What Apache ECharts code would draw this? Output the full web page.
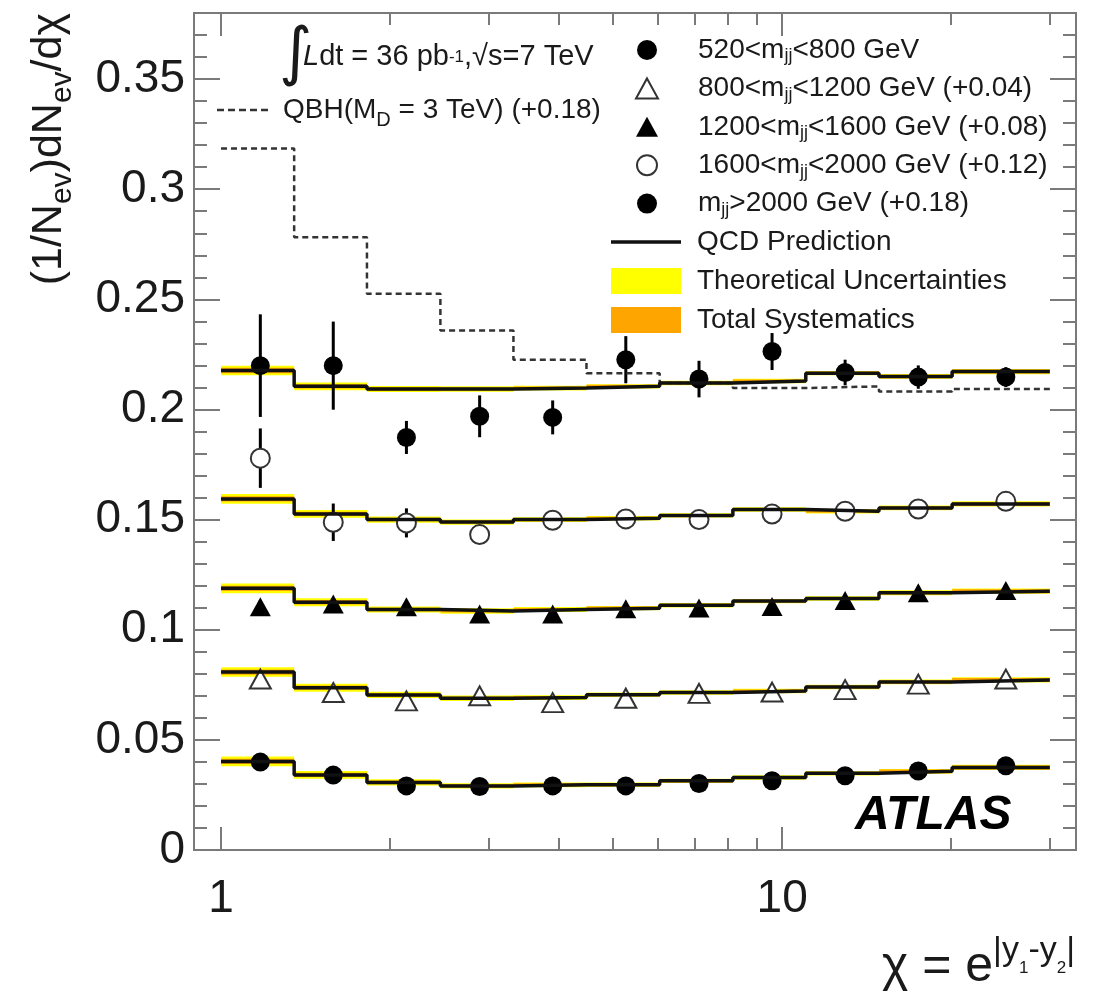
<!DOCTYPE html>
<html>
<head>
<meta charset="utf-8">
<title>ATLAS dijet angular distributions</title>
<script src="https://cdn.jsdelivr.net/npm/echarts@6.0.0/dist/echarts.min.js"></script>
<style>
html,body{margin:0;padding:0;background:#ffffff;}
#chart{width:1099px;height:996px;}
</style>
</head>
<body>
<div id="chart"></div>
<script>
// ---------------- data ----------------
const chiEdges = [1, 1.35, 1.82, 2.46, 3.32, 4.48, 6.05, 8.17, 11.02, 14.88, 20.09, 30];
const massLabels = ['520<mjj<800 GeV', '800<mjj<1200 GeV (+0.04)', '1200<mjj<1600 GeV (+0.08)',
                    '1600<mjj<2000 GeV (+0.12)', 'mjj>2000 GeV (+0.18)'];
const massOffsets = [0, 0.04, 0.08, 0.12, 0.18];

const pts520 = [0.0399, 0.0340, 0.0291, 0.0288, 0.0291, 0.0291, 0.0302, 0.0314, 0.0337, 0.0359, 0.0382];
const err520 = [0.0012, 0.0009, 0.0007, 0.0007, 0.0007, 0.0007, 0.0007, 0.0007, 0.0008, 0.0009, 0.0010];
const qcd520 = [0.0402, 0.0341, 0.0307, 0.0291, 0.0296, 0.0296, 0.0314, 0.0329, 0.0348, 0.0357, 0.0375];

const pts800 = [0.0376, 0.0315, 0.0277, 0.0300, 0.0269, 0.0289, 0.0311, 0.0317, 0.0328, 0.0353, 0.0376];
const err800 = [0.0020, 0.0015, 0.0012, 0.0012, 0.0012, 0.0012, 0.0012, 0.0012, 0.0012, 0.0013, 0.0014];
const qcd800 = [0.0408, 0.0337, 0.0304, 0.0289, 0.0292, 0.0305, 0.0315, 0.0322, 0.0340, 0.0363, 0.0372];

const pts1200 = [0.0304, 0.0317, 0.0304, 0.0272, 0.0272, 0.0295, 0.0299, 0.0306, 0.0333, 0.0368, 0.0378];
const err1200 = [0.0030, 0.0022, 0.0018, 0.0016, 0.0016, 0.0016, 0.0016, 0.0016, 0.0017, 0.0018, 0.0019];
const qcd1200 = [0.0388, 0.0325, 0.0292, 0.0285, 0.0292, 0.0298, 0.0311, 0.0330, 0.0342, 0.0368, 0.0375];

const pts1600 = [0.0579, 0.0288, 0.0285, 0.0232, 0.0297, 0.0303, 0.0300, 0.0325, 0.0338, 0.0348, 0.0383];
const err1600 = [0.0135, 0.0085, 0.0066, 0.0030, 0.0025, 0.0025, 0.0025, 0.0025, 0.0025, 0.0025, 0.0030];
const qcd1600 = [0.0394, 0.0326, 0.0300, 0.0289, 0.0300, 0.0306, 0.0319, 0.0346, 0.0338, 0.0353, 0.0371];

const pts2000 = [0.0399, 0.0399, 0.0073, 0.0169, 0.0164, 0.0426, 0.0338, 0.0463, 0.0368, 0.0347, 0.0347];
const err2000 = [0.0233, 0.0200, 0.0075, 0.0095, 0.0077, 0.0107, 0.0083, 0.0084, 0.0058, 0.0053, 0.0045];
const qcd2000 = [0.0377, 0.0305, 0.0293, 0.0293, 0.0297, 0.0305, 0.0320, 0.0329, 0.0365, 0.0350, 0.0372];

const qbhLabel = 'QBH(MD = 3 TeV) (+0.18)';
const qbh = [0.1385, 0.0982, 0.0725, 0.0559, 0.0426, 0.0365, 0.0320, 0.0297, 0.0305, 0.0282, 0.0293];
const qbhOffset = 0.18;

const theoUnc = [0.0022, 0.0018, 0.0014, 0.0012, 0.0011, 0.0010, 0.0010, 0.0010, 0.0010, 0.0011, 0.0012];
const totSyst = [0.0012, 0.0010, 0.0008, 0.0007, 0.0007, 0.0007, 0.0007, 0.0007, 0.0007, 0.0008, 0.0009];

const xMajorTicks = [1, 10];
const xMinorTicks = [2, 3, 4, 5, 6, 7, 8, 9, 20, 30];
const yMajorTicks = [0, 0.05, 0.1, 0.15, 0.2, 0.25, 0.3, 0.35];

// ---------------- styling ----------------
const FONT = '"Liberation Sans", Arial, Helvetica, sans-serif';
const AXIS_COLOR = '#7a7a7a';
const TEXT_COLOR = '#1a1a1a';
const xMin = 0.895, xMax = 33.4, yMin = 0, yMax = 0.38;
const DASH_ICON = 'path://M0,0h7v2.5h-7z M11,0h7v2.5h-7z M22,0h7v2.5h-7z M33,0h7v2.5h-7z M44,0h7v2.5h-7z';

const centers = chiEdges.slice(0, -1).map((lo, k) => (lo + chiEdges[k + 1]) / 2);

function xAxisDef(pos, ticks, len, withLabels, withLine) {
  return {
    type: 'log', logBase: 10, position: pos, min: xMin, max: xMax,
    axisLine: {show: withLine, onZero: false, lineStyle: {color: AXIS_COLOR, width: 2}},
    axisTick: {show: true, inside: true, length: len, customValues: ticks,
               lineStyle: {color: AXIS_COLOR, width: 2}},
    axisLabel: withLabels ? {show: true, customValues: xMajorTicks, fontSize: 46, fontFamily: FONT,
                             color: TEXT_COLOR, margin: 26} : {show: false},
    splitLine: {show: false}, minorTick: {show: false}, minorSplitLine: {show: false}
  };
}
function yAxisDef(pos, major, withLabels) {
  return {
    type: 'value', position: pos, min: yMin, max: yMax, interval: major ? 0.05 : 0.01,
    axisLine: {show: true, onZero: false, lineStyle: {color: AXIS_COLOR, width: 2}},
    axisTick: major ? {show: true, inside: true, length: 26, customValues: yMajorTicks,
                       lineStyle: {color: AXIS_COLOR, width: 2}}
                    : {show: true, inside: true, length: 13, lineStyle: {color: AXIS_COLOR, width: 2}},
    axisLabel: withLabels ? {show: true, customValues: yMajorTicks, fontSize: 46, fontFamily: FONT,
                             color: TEXT_COLOR, margin: 9} : {show: false},
    splitLine: {show: false}, minorTick: {show: false}
  };
}

const massSets = [
  {name: massLabels[0], pts: pts520, err: err520, qcd: qcd520, off: massOffsets[0], symbol: 'circle', filled: true},
  {name: massLabels[1], pts: pts800, err: err800, qcd: qcd800, off: massOffsets[1], symbol: 'triangle', filled: false},
  {name: massLabels[2], pts: pts1200, err: err1200, qcd: qcd1200, off: massOffsets[2], symbol: 'triangle', filled: true},
  {name: massLabels[3], pts: pts1600, err: err1600, qcd: qcd1600, off: massOffsets[3], symbol: 'circle', filled: false},
  {name: massLabels[4], pts: pts2000, err: err2000, qcd: qcd2000, off: massOffsets[4], symbol: 'circle', filled: true}
];

function bandRender(params, api) {
  const p0 = api.coord([api.value(0), api.value(3)]);
  const p1 = api.coord([api.value(1), api.value(2)]);
  return {type: 'rect', shape: {x: p0[0], y: p0[1], width: p1[0] - p0[0], height: p1[1] - p0[1]},
          style: {fill: api.visual('color')}};
}
function errRender(params, api) {
  const x = api.value(0);
  const p0 = api.coord([x, api.value(1)]);
  const p1 = api.coord([x, api.value(2)]);
  return {type: 'line', shape: {x1: p0[0], y1: p0[1], x2: p1[0], y2: p1[1]},
          style: {stroke: '#000', lineWidth: 3}};
}
function stepData(vals, off) {
  return chiEdges.map((e, k) => [e, vals[Math.min(k, vals.length - 1)] + off]);
}

const series = [];
// uncertainty bands
massSets.forEach(s => {
  series.push({
    type: 'custom', name: 'Theoretical Uncertainties', xAxisIndex: 0, yAxisIndex: 0, silent: true,
    itemStyle: {color: '#ffff00'}, encode: {x: [0, 1], y: [2, 3]}, renderItem: bandRender,
    data: s.qcd.map((v, k) => [chiEdges[k], chiEdges[k + 1], v + s.off - theoUnc[k], v + s.off + theoUnc[k]])
  });
  series.push({
    type: 'custom', name: 'Total Systematics', xAxisIndex: 0, yAxisIndex: 0, silent: true,
    itemStyle: {color: '#ffa500'}, encode: {x: [0, 1], y: [2, 3]}, renderItem: bandRender,
    data: s.qcd.map((v, k) => [chiEdges[k], chiEdges[k + 1], v + s.off - totSyst[k], v + s.off + totSyst[k]])
  });
});
// QBH dashed histogram
series.push({
  type: 'line', name: qbhLabel, step: 'end', xAxisIndex: 0, yAxisIndex: 0, symbol: 'none', silent: true,
  lineStyle: {color: '#333', width: 2.5, type: [6, 4]}, itemStyle: {color: '#333'},
  data: stepData(qbh, qbhOffset)
});
// QCD prediction histograms
massSets.forEach(s => {
  series.push({
    type: 'line', name: 'QCD Prediction', step: 'end', xAxisIndex: 0, yAxisIndex: 0, symbol: 'none', silent: true,
    lineStyle: {color: '#111', width: 3.5}, itemStyle: {color: '#111'},
    data: stepData(s.qcd, s.off)
  });
});
// error bars and markers
massSets.forEach(s => {
  series.push({
    type: 'custom', name: s.name + ' errors', xAxisIndex: 0, yAxisIndex: 0, silent: true,
    encode: {x: 0, y: [1, 2]}, renderItem: errRender,
    data: centers.map((c, k) => [c, s.pts[k] + s.off - s.err[k], s.pts[k] + s.off + s.err[k]])
  });
  series.push({
    type: 'scatter', name: s.name, xAxisIndex: 0, yAxisIndex: 0, symbol: s.symbol, symbolKeepAspect: true,
    symbolSize: s.symbol === 'triangle' ? [21, 19] : 19, silent: true,
    itemStyle: s.filled ? {color: '#000', opacity: 1}
                        : {color: '#fff', borderColor: '#333', borderWidth: 2, opacity: 1},
    data: centers.map((c, k) => [c, s.pts[k] + s.off])
  });
});

const legendText = (lh, extra) => Object.assign({fontSize: 28, fontFamily: FONT, color: TEXT_COLOR, lineHeight: lh}, extra);

const option = {
  backgroundColor: '#ffffff',
  animation: false,
  grid: {left: 194, right: 23, top: 13, bottom: 146, containLabel: false, outerBoundsMode: 'none'},
  xAxis: [
    xAxisDef('bottom', xMajorTicks, 23, true, true),
    xAxisDef('bottom', xMinorTicks, 12, false, false),
    xAxisDef('top', xMajorTicks, 23, false, true),
    xAxisDef('top', xMinorTicks, 12, false, false)
  ],
  yAxis: [
    yAxisDef('left', true, true),
    yAxisDef('left', false, false),
    yAxisDef('right', true, false),
    yAxisDef('right', false, false)
  ],
  legend: [
    {
      data: massLabels, orient: 'vertical', left: 635, top: 34.5,
      itemWidth: 22, itemHeight: 20, itemGap: 7.4, padding: 0, selectedMode: false, symbolKeepAspect: true,
      textStyle: legendText(31, {padding: [0, 0, 0, 35],
        rich: {sub: {fontSize: 18, fontFamily: FONT, color: TEXT_COLOR, lineHeight: 1, verticalAlign: 'bottom'}}}),
      formatter: n => n.replace('mjj', 'm{sub|jj}')
    },
    {
      data: [{name: 'QCD Prediction', icon: 'rect'}], orient: 'vertical', left: 611, top: 226.5,
      itemWidth: 70, itemHeight: 3.5, padding: 0, selectedMode: false,
      textStyle: legendText(31, {padding: [0, 0, 0, 11]})
    },
    {
      data: [{name: 'Theoretical Uncertainties', icon: 'rect'}, {name: 'Total Systematics', icon: 'rect'}],
      orient: 'vertical', left: 611, top: 267, itemWidth: 70, itemHeight: 26, itemGap: 11, padding: 0,
      selectedMode: false,
      textStyle: legendText(26, {padding: [0, 0, 0, 11]})
    },
    {
      data: [{name: qbhLabel, icon: DASH_ICON}], orient: 'vertical', left: 217, top: 89.5,
      itemWidth: 51, itemHeight: 2.5, padding: 0, selectedMode: false,
      textStyle: legendText(41, {padding: [0, 0, 0, 10],
        rich: {sub: {fontSize: 20, fontFamily: FONT, color: TEXT_COLOR, lineHeight: 1, verticalAlign: 'bottom'}}}),
      formatter: n => n.replace('MD', 'M{sub|D}')
    }
  ],
  graphic: [
    {type: 'text', x: 279, y: 56, silent: true,
     style: {text: '∫', fontSize: 64, fontFamily: '"DejaVu Sans", sans-serif', fill: TEXT_COLOR,
             align: 'left', verticalAlign: 'middle'}},
    {type: 'text', x: 303, y: 57, silent: true,
     style: {text: '{it|L}dt = 36 pb{sup|-1},√s=7 TeV', fontSize: 29, fontFamily: FONT, fill: TEXT_COLOR,
             align: 'left', verticalAlign: 'middle', lineHeight: 17,
             rich: {it: {fontSize: 29, fontFamily: FONT, fontStyle: 'italic', fill: TEXT_COLOR, lineHeight: 17},
                    sup: {fontSize: 17, fontFamily: FONT, fill: TEXT_COLOR, lineHeight: 1, verticalAlign: 'top'}}}},
    {type: 'text', x: 855, y: 816, silent: true,
     style: {text: 'ATLAS', fontSize: 48, fontWeight: 'bold', fontStyle: 'italic', fontFamily: FONT,
             fill: '#000', align: 'left', verticalAlign: 'middle'}},
    {type: 'text', x: 1075, y: 967.5, silent: true,
     style: {text: 'χ = e{sup||y}{ss|1}{sup|-y}{ss|2}{sup||}', fontSize: 50, fontFamily: FONT, fill: TEXT_COLOR,
             align: 'right', verticalAlign: 'middle', lineHeight: 68,
             rich: {sup: {fontSize: 34, fontFamily: FONT, fill: TEXT_COLOR, lineHeight: 1, verticalAlign: 'top'},
                    ss: {fontSize: 17, fontFamily: FONT, fill: TEXT_COLOR, lineHeight: 1, verticalAlign: 'top',
                         padding: [26, 0, 0, 0]}}}},
    {type: 'text', x: 49, y: 13, rotation: Math.PI / 2, silent: true,
     style: {text: '(1/N{sub|ev})dN{sub|ev}/dχ', fontSize: 43, fontFamily: FONT, fill: TEXT_COLOR,
             align: 'right', verticalAlign: 'middle', lineHeight: 57,
             rich: {sub: {fontSize: 30, fontFamily: FONT, fill: TEXT_COLOR, lineHeight: 1, verticalAlign: 'bottom'}}}}
  ],
  series: series
};

const chart = echarts.init(document.getElementById('chart'), null, {renderer: 'canvas', width: 1099, height: 996});
chart.setOption(option);
</script>
</body>
</html>
